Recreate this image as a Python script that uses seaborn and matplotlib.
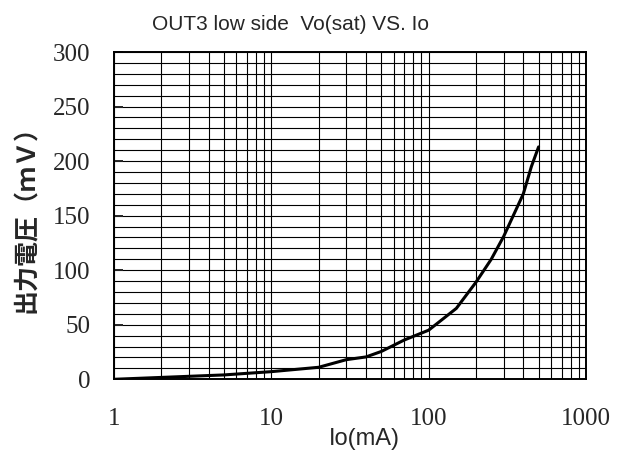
import numpy as np
import pandas as pd
import seaborn as sns
import matplotlib
matplotlib.use("Agg")
import matplotlib.pyplot as plt
from matplotlib.ticker import MultipleLocator, FixedLocator, LogLocator, NullFormatter

# data
io_ma = [1, 5, 10, 20, 30, 40, 50, 70, 100, 150, 200, 250, 300, 400, 450, 500]
vo_mv = [0, 4, 7, 11, 18, 20.5, 25.5, 36, 45, 65, 89, 110, 131, 170, 195, 213]
x_ticks = [1, 10, 100, 1000]
x_labels = ["1", "10", "100", "1000"]
y_ticks = [0, 50, 100, 150, 200, 250, 300]

df = pd.DataFrame({"Io": io_ma, "Vo": vo_mv})

sns.set_style("white")
plt.rcParams["font.family"] = ["Liberation Sans", "DejaVu Sans"]

fig = plt.figure(figsize=(6.24, 4.51), dpi=100)
ax = fig.add_axes([0.1827, 0.159, 0.7563, 0.7257])

sns.lineplot(data=df, x="Io", y="Vo", color="black", linewidth=2.2, ax=ax)

ax.set_xscale("log")
ax.set_xlim(1, 1000)
ax.set_ylim(0, 300)

ax.xaxis.set_major_locator(FixedLocator(x_ticks))
ax.set_xticklabels(x_labels)
ax.xaxis.set_minor_locator(LogLocator(base=10, subs=np.arange(2, 10)))
ax.xaxis.set_minor_formatter(NullFormatter())
ax.yaxis.set_major_locator(FixedLocator(y_ticks))
ax.yaxis.set_minor_locator(MultipleLocator(10))

ax.grid(True, which="both", color="black", linewidth=0.8)
for s in ax.spines.values():
    s.set_color("black")
    s.set_linewidth(1.4)

for lab in ax.get_xticklabels() + ax.get_yticklabels():
    lab.set_family(["Liberation Serif", "DejaVu Serif"])
    lab.set_fontsize(18)
ax.tick_params(axis="x", which="both", length=0, pad=21)
ax.tick_params(axis="y", which="major", direction="in", length=6.5, width=1.4, pad=17, left=True)
ax.tick_params(axis="y", which="minor", length=0)

ax.set_xlabel("Io(mA)", fontsize=17)
ax.xaxis.set_label_coords(0.53, -0.15)
ax.set_ylabel("")
fig.text(0.043, 0.527, "出力電圧（ｍＶ）", rotation=90, ha="center", va="center",
         fontsize=18, fontweight="bold", family=["Noto Sans CJK JP", "DejaVu Sans"])

fig.text(0.466, 0.945, "OUT3 low side  Vo(sat) VS. Io", ha="center", va="center", fontsize=15)

fig.savefig("out.png", dpi=100)
